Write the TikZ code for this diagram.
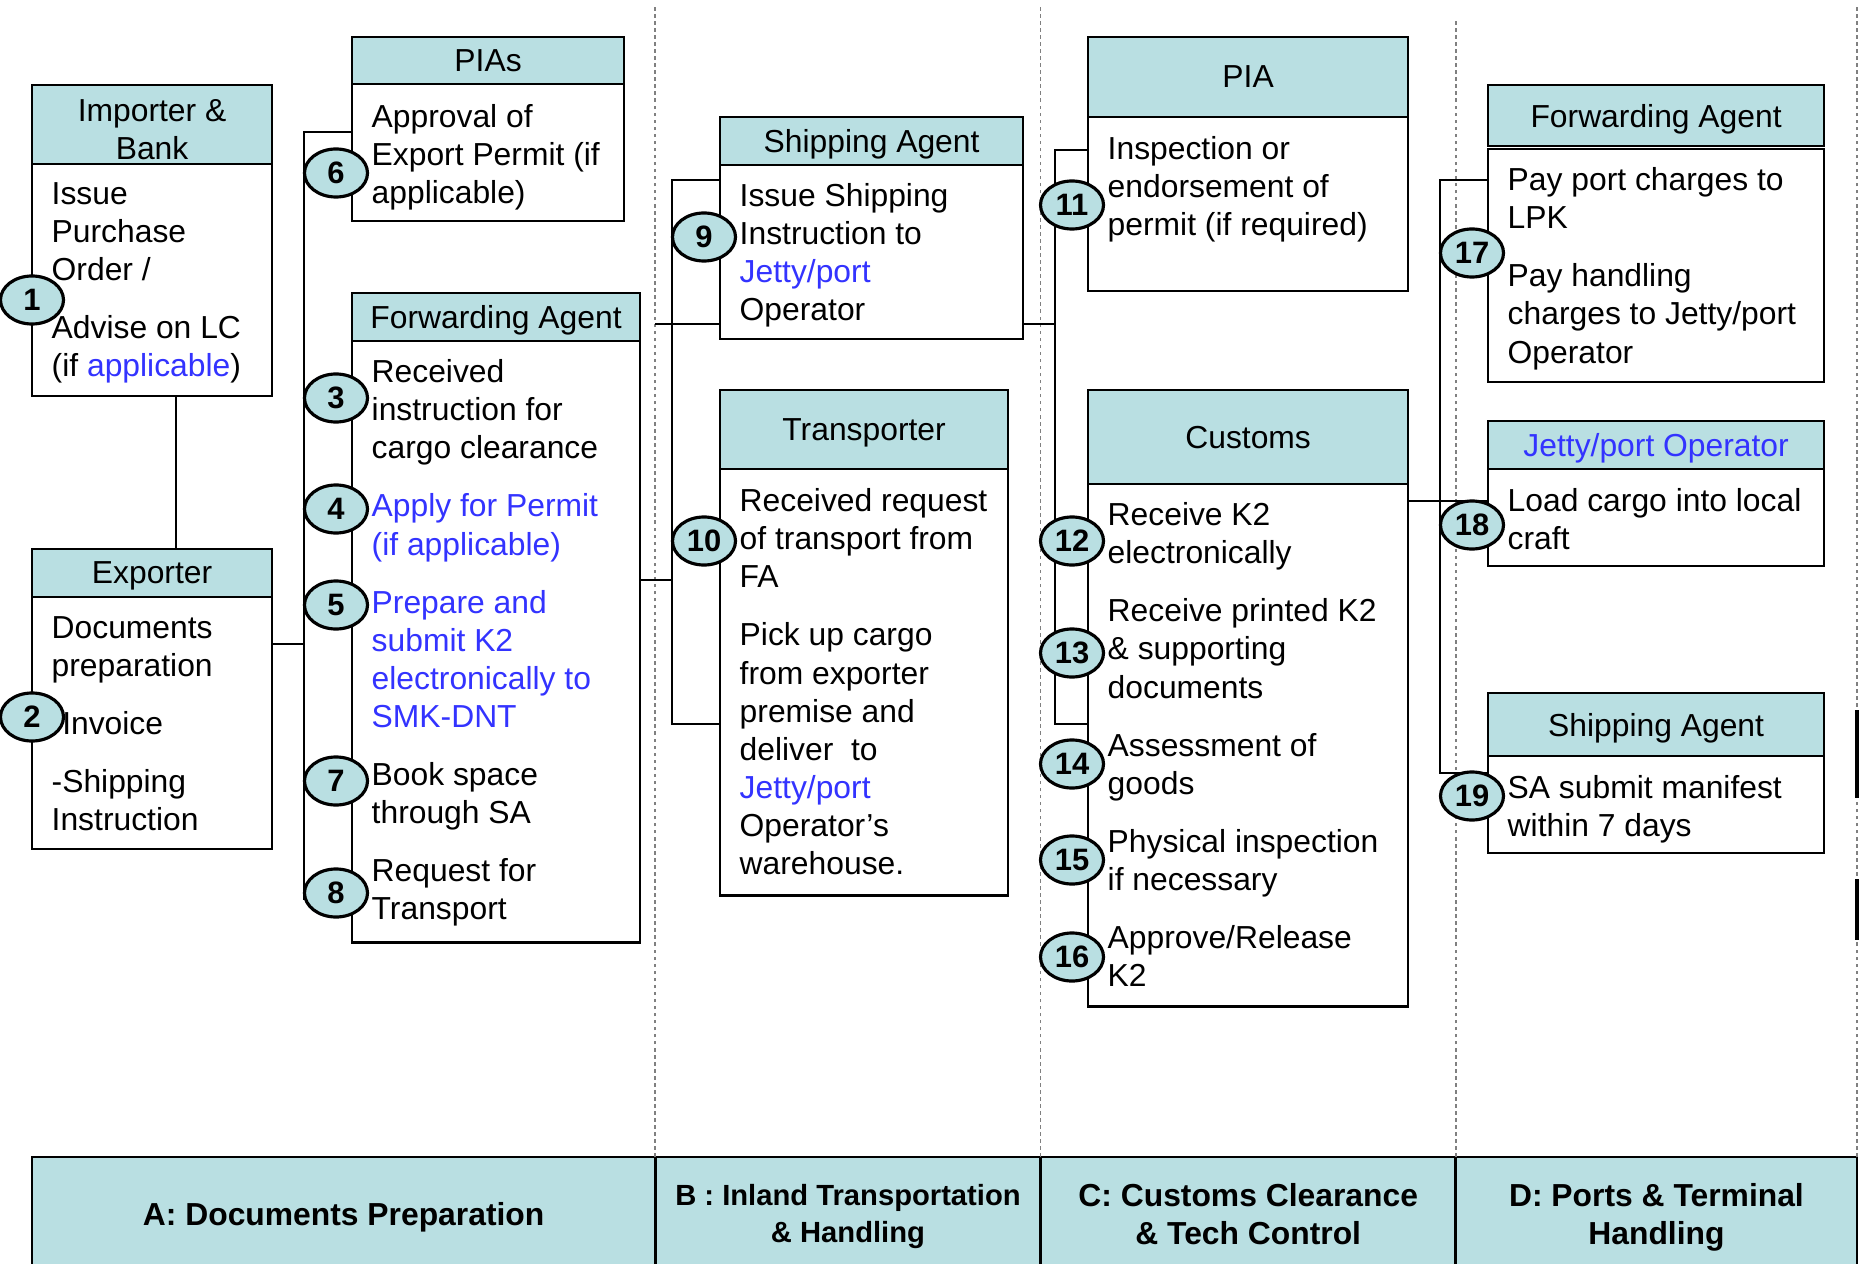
\documentclass[tikz,border=0pt]{standalone}
\usepackage{fontspec}
\setmainfont{Liberation Sans}
\usetikzlibrary{shapes,arrows,calc,positioning,backgrounds}
\definecolor{lightteal}{RGB}{185,223,226}
\definecolor{linkblue}{RGB}{51,51,255}
\newcommand{\bodysize}{\fontsize{9.05}{10.82}\selectfont}
\newcommand{\blu}[1]{\textcolor{linkblue}{#1}}

\begin{document}
\begin{tikzpicture}[x=0.01cm, y=-0.01cm,
  head/.style={draw, line width=0.7pt, fill=lightteal, anchor=north west, inner sep=0pt, outer sep=0pt, text depth=0pt, align=center, font=\bodysize},
  body/.style={draw, line width=0.7pt, fill=white, inner sep=0pt, outer sep=0pt},
  txt/.style={anchor=north west, inner sep=0pt, align=left, font=\bodysize},
  num/.style={ellipse, draw, line width=0.9pt, fill=lightteal, minimum width=0.63cm, minimum height=0.48cm, inner sep=0pt, font=\bfseries\fontsize{8.8}{9}\selectfont},
  link/.style={line width=0.7pt},
  lane/.style={gray, line width=0.5pt, dash pattern=on 1pt off 1pt},
  band/.style={draw, line width=0.8pt, fill=lightteal, inner sep=0pt, outer sep=0pt, text depth=0pt, minimum height=1.13cm, align=center, font=\bfseries\fontsize{9.05}{10.8}\selectfont}]
  \useasboundingbox (0,0) rectangle (1861,1264);

  \node[band, minimum width=6.23cm, anchor=north west] (bandA) at (32,1157) {A: Documents Preparation};
  \node[band, minimum width=3.85cm, right=0pt of bandA, font=\bfseries\fontsize{8.3}{10.5}\selectfont] (bandB) {B : Inland Transportation\\\& Handling};
  \node[band, minimum width=4.15cm, right=0pt of bandB] (bandC) {C: Customs Clearance\\\& Tech Control};
  \node[band, minimum width=4.01cm, right=0pt of bandC] (bandD) {D: Ports \& Terminal\\Handling};

  \draw[lane] (bandA.north east) -- ++(0,-1153);
  \draw[lane] (bandB.north east) -- ++(0,-1153);
  \draw[lane] (bandC.north east) -- ++(0,-1136);
  \draw[lane] (bandD.north east) -- ++(0,-1153);
  \draw[line width=1pt] (bandD.north east) ++(0,-447) -- ++(0,88);
  \draw[line width=1pt] (bandD.north east) ++(0,-278) -- ++(0,61);

  \node[head, minimum width=2.40cm, minimum height=0.79cm] (impH) at (32,85) {};
  \node[font=\bodysize, align=center, inner sep=0pt] (impL) at ([yshift=-0.05cm]impH.center) {Importer \&\\Bank};
  \node[body, minimum width=2.40cm, minimum height=2.32cm, below=0pt of impH] (impB) {};
  \node[head, minimum width=2.40cm, minimum height=0.48cm] (expH) at (32,549) {Exporter};
  \node[body, minimum width=2.40cm, minimum height=2.52cm, below=0pt of expH] (expB) {};
  \node[head, minimum width=2.72cm, minimum height=0.47cm] (piasH) at (352,37) {PIAs};
  \node[body, minimum width=2.72cm, minimum height=1.37cm, below=0pt of piasH] (piasB) {};
  \node[head, minimum width=2.88cm, minimum height=0.48cm] (faH) at (352,293) {Forwarding Agent};
  \node[body, minimum width=2.88cm, minimum height=6.01cm, below=0pt of faH] (faB) {};
  \node[head, minimum width=3.03cm, minimum height=0.48cm] (saH) at (720,117) {Shipping Agent};
  \node[body, minimum width=3.03cm, minimum height=1.74cm, below=0pt of saH] (saB) {};
  \node[head, minimum width=2.88cm, minimum height=0.79cm] (trH) at (720,390) {Transporter};
  \node[body, minimum width=2.88cm, minimum height=4.26cm, below=0pt of trH] (trB) {};
  \node[head, minimum width=3.20cm, minimum height=0.80cm] (piaH) at (1088,37) {PIA};
  \node[body, minimum width=3.20cm, minimum height=1.74cm, below=0pt of piaH] (piaB) {};
  \node[head, minimum width=3.20cm, minimum height=0.94cm] (cuH) at (1088,390) {Customs};
  \node[body, minimum width=3.20cm, minimum height=5.22cm, below=0pt of cuH] (cuB) {};
  \node[head, minimum width=3.36cm, minimum height=0.61cm] (fdH) at (1488,85) {Forwarding Agent};
  \node[body, minimum width=3.36cm, minimum height=2.33cm, below=0.03cm of fdH] (fdB) {};
  \node[head, minimum width=3.36cm, minimum height=0.48cm] (jtH) at (1488,421) {\blu{Jetty/port Operator}};
  \node[body, minimum width=3.36cm, minimum height=0.97cm, below=0pt of jtH] (jtB) {};
  \node[head, minimum width=3.36cm, minimum height=0.63cm] (sdH) at (1488,693) {Shipping Agent};
  \node[body, minimum width=3.36cm, minimum height=0.97cm, below=0pt of sdH] (sdB) {};

  \coordinate (busA) at (304,900);
  \coordinate (busB) at (672,724);
  \coordinate (busC) at (1055,724);
  \coordinate (busD) at (1440,773);
  \coordinate (expOut) at ([yshift=-0.47cm]expB.north east);
  \coordinate (faOut) at ([yshift=-2.39cm]faB.north east);
  \coordinate (saIn) at ([yshift=-1.59cm]saB.north west);
  \coordinate (cuOut) at ([yshift=-0.17cm]cuB.north east);

  \draw[link] ([xshift=1.44cm]impB.south west) -- ([xshift=1.44cm]expH.north west);
  \draw[link] ([yshift=-0.48cm]piasB.north west) -| (busA);
  \draw[link] (expOut) -- (expOut -| busA);
  \draw[link] (faOut) -- (faOut -| busB);
  \draw[link] ([yshift=-0.15cm]saB.north west) -| (busB) -- (trB.west |- busB);
  \draw[link] (saIn -| bandA.north east) -- (saIn);
  \draw[link] (saIn -| saB.east) -- (saIn -| busC);
  \draw[link] ([yshift=-0.33cm]piaB.north west) -| (busC) -- (cuB.west |- busC);
  \draw[link] (cuOut) -- (cuOut -| jtB.west);
  \draw[link] ([yshift=-0.31cm]fdB.north west) -| (busD) -- (sdB.west |- busD);

  \node[txt] (impT) at (51,182) {Issue\\Purchase\\Order /\\[5.7pt]Advise on LC\\(if \blu{applicable})};
  \node[txt] (expT) at (51,616) {Documents\\preparation\\[5.7pt]\hspace*{3pt}Invoice\\[5.7pt]-Shipping\\Instruction};
  \node[txt] (piasT) at (371,104) {Approval of\\Export Permit (if\\applicable)};
  \node[txt] (faT) at (371,359) {Received\\instruction for\\cargo clearance\\[5.7pt]\blu{Apply for Permit}\\\blu{(if applicable)}\\[5.7pt]\blu{Prepare and}\\\blu{submit K2}\\\blu{electronically to}\\\blu{SMK-DNT}\\[5.7pt]Book space\\through SA\\[5.7pt]Request for\\Transport};
  \node[txt] (saT) at (739,183) {Issue Shipping\\Instruction to\\\blu{Jetty/port}\\Operator};
  \node[txt] (trT) at (739,488) {Received request\\of transport from\\FA\\[5.7pt]Pick up cargo\\from exporter\\premise and\\deliver\ \ to\\\blu{Jetty/port}\\Operator’s\\warehouse.};
  \node[txt] (piaT) at (1107,136) {Inspection or\\endorsement of\\permit (if required)};
  \node[txt] (cuT) at (1107,502) {Receive K2\\electronically\\[5.7pt]Receive printed K2\\\& supporting\\documents\\[5.7pt]Assessment of\\goods\\[5.7pt]Physical inspection\\if necessary\\[5.7pt]Approve/Release\\K2};
  \node[txt] (fdT) at (1507,167) {Pay port charges to\\LPK\\[5.7pt]Pay handling\\charges to Jetty/port\\Operator};
  \node[txt] (jtT) at (1507,488) {Load cargo into local\\craft};
  \node[txt] (sdT) at (1507,775) {SA submit manifest\\within 7 days};

  \node[num] (n1) at (32,300) {1};
  \node[num] (n2) at (32,717) {2};
  \node[num] (n3) at (336,398) {3};
  \node[num] (n4) at (336,509) {4};
  \node[num] (n5) at (336,605) {5};
  \node[num] (n6) at (336,173) {6};
  \node[num] (n7) at (336,781) {7};
  \node[num] (n8) at (336,893) {8};
  \node[num] (n9) at (704,237) {9};
  \node[num] (n10) at (704,541) {10};
  \node[num] (n11) at (1072,205) {11};
  \node[num] (n12) at (1072,541) {12};
  \node[num] (n13) at (1072,653) {13};
  \node[num] (n14) at (1072,764) {14};
  \node[num] (n15) at (1072,860) {15};
  \node[num] (n16) at (1072,957) {16};
  \node[num] (n17) at (1472,253) {17};
  \node[num] (n18) at (1472,525) {18};
  \node[num] (n19) at (1472,796) {19};
\end{tikzpicture}
\end{document}
